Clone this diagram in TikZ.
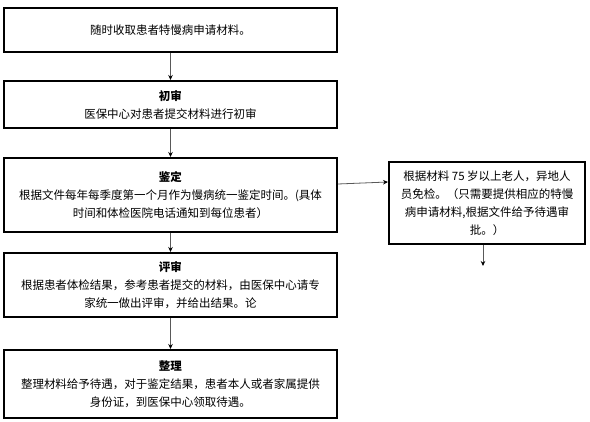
\documentclass[tikz,border=0pt]{standalone}
\usepackage{fontspec}
\setmainfont{Noto Sans CJK SC}
\usetikzlibrary{arrows.meta,positioning}
\begin{document}
\begin{tikzpicture}[x=1pt, y=-1pt,
    stepbox/.style={draw=black, line width=2pt, fill=white, align=center,
        minimum width=333pt, inner sep=2pt,
        font=\fontsize{11.5}{18}\selectfont},
    sidebox/.style={stepbox, minimum width=196pt, minimum height=82pt},
    flow/.style={draw=black!65, line width=0.8pt,
        -{Stealth[length=5pt,width=4.5pt,black]}}]
    \useasboundingbox (0,0) rectangle (590,422);
    % Main column of steps
    \node[stepbox, minimum height=44pt] (shouqu) at (170.5,30) {随时收取患者特慢病申请材料。};
    \node[stepbox, minimum height=47pt] (chushen) at (170.5,104.5)
        {\textbf{初审}\\医保中心对患者提交材料进行初审};
    \node[stepbox, minimum height=74pt] (jianding) at (170.5,195)
        {\textbf{鉴定}\\根据文件每年每季度第一个月作为慢病统一鉴定时间。(具体\\时间和体检医院电话通知到每位患者）};
    \node[stepbox, minimum height=64pt] (pingshen) at (170.5,285)
        {\textbf{评审}\\根据患者体检结果，参考患者提交的材料，由医保中心请专\\家统一做出评审，并给出结果。论};
    \node[stepbox, minimum height=68pt] (zhengli) at (170.5,384)
        {\textbf{整理}\\整理材料给予待遇，对于鉴定结果，患者本人或者家属提供\\身份证，到医保中心领取待遇。};
    % Side branch (exempt from check)
    \node[sidebox] (mianjian) at (487,203)
        {根据材料 75 岁以上老人，异地人\\员免检。（只需要提供相应的特慢\\病申请材料,根据文件给予待遇审\\批。）};
    \coordinate (mianjian end) at (483,266);
    % Connectors
    \foreach \from/\to in {shouqu/chushen, chushen/jianding, jianding/pingshen, pingshen/zhengli} {
        \draw[flow] (\from) -- (\to);
    }
    \draw[flow] ([yshift=11pt]jianding.east) -- ([yshift=-21pt]mianjian.north west);
    \draw[flow] (mianjian.south -| mianjian end) -- (mianjian end);
\end{tikzpicture}
\end{document}
